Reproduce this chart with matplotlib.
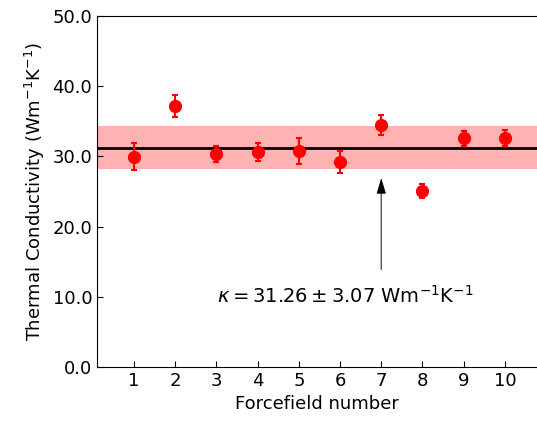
import numpy as np
import matplotlib
matplotlib.use('Agg')
import matplotlib.pyplot as plt

plt.rcParams['font.family'] = ['DejaVu Sans']
plt.rcParams['mathtext.fontset'] = 'dejavusans'

# values
forcefield = [1, 2, 3, 4, 5, 6, 7, 8, 9, 10]
kappa = [29.96, 37.18, 30.30, 30.67, 30.77, 29.15, 34.47, 25.07, 32.57, 32.67]
kappa_err = [1.90, 1.62, 1.15, 1.30, 1.85, 1.55, 1.38, 1.03, 1.05, 1.15]
kappa_mean = 31.26
kappa_std = 3.07

fig = plt.figure(figsize=(5.37, 4.22), dpi=100)
ax = fig.add_axes([97/537, 55/422, 1 - 97/537, 351/422])

ax.axhspan(kappa_mean - kappa_std, kappa_mean + kappa_std, color='red', alpha=0.3, lw=0, zorder=1)
ax.axhline(kappa_mean, color='black', lw=2, zorder=2)
ax.errorbar(forcefield, kappa, yerr=kappa_err, fmt='o', color='red', ms=8.5,
            elinewidth=1.5, capsize=2.5, capthick=1.5, zorder=3)

# arrow: grey shaft, black head
ax.annotate('', xy=(7, 25.3), xytext=(7, 13.9),
            arrowprops=dict(arrowstyle='-', color='#555555', lw=1, shrinkA=0, shrinkB=0))
ax.annotate('', xy=(7, 26.9), xytext=(7, 25.0),
            arrowprops=dict(arrowstyle='-|>,head_length=1.0,head_width=0.3', color='black',
                            lw=0.5, shrinkA=0, shrinkB=0))
ax.text(6.12, 10.1, r'$\kappa = 31.26 \pm 3.07$ Wm$^{-1}$K$^{-1}$', ha='center', va='center', fontsize=14)

ax.set_xlim(0.1, 10.78)
ax.set_ylim(0, 50)
ax.set_xticks(forcefield)
ax.set_yticks([0, 10, 20, 30, 40, 50])
ax.set_yticklabels(['%.1f' % v for v in [0, 10, 20, 30, 40, 50]])
ax.tick_params(direction='in', labelsize=13, length=4)
ax.spines['right'].set_visible(False)
ax.set_xlabel('Forcefield number', fontsize=13)
ax.set_ylabel('Thermal Conductivity (Wm$^{-1}$K$^{-1}$)', fontsize=13)

fig.savefig('out.png', dpi=100)
